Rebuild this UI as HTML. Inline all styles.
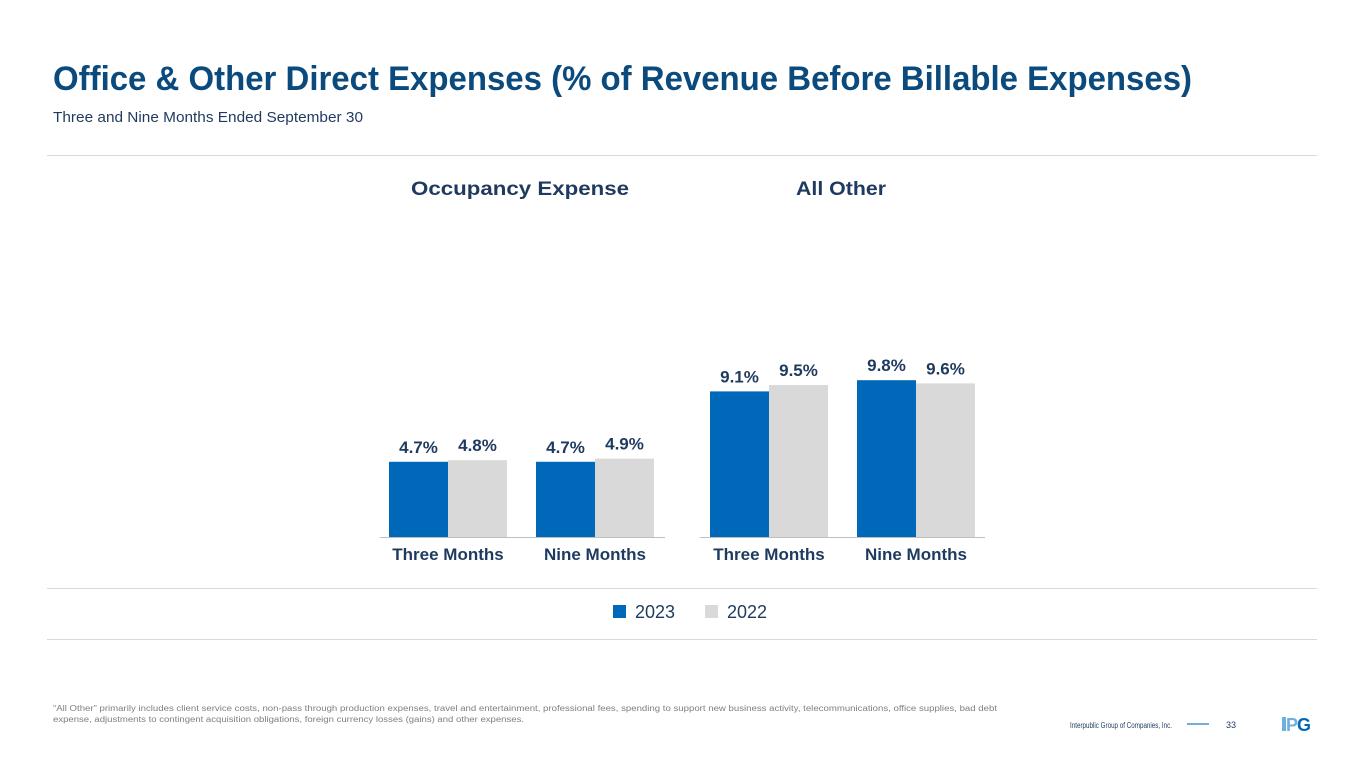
<!DOCTYPE html>
<html><head><meta charset="utf-8"><style>
body{margin:0;background:#fff;}
svg{display:block;font-family:"Liberation Sans",sans-serif;}
</style></head><body>
<svg width="1365" height="768" viewBox="0 0 1365 768">
<text x="53" y="90" font-size="34" font-weight="bold" fill="#0b4a7d" textLength="1139" lengthAdjust="spacingAndGlyphs">Office &amp; Other Direct Expenses (% of Revenue Before Billable Expenses)</text>
<text x="53" y="122" font-size="15" fill="#1f3a5f" textLength="310" lengthAdjust="spacingAndGlyphs">Three and Nine Months Ended September 30</text>
<line x1="47" y1="155.5" x2="1317" y2="155.5" stroke="#d9d9d9"/>
<line x1="47" y1="588.5" x2="1317" y2="588.5" stroke="#d9d9d9"/>
<line x1="47" y1="639.5" x2="1317" y2="639.5" stroke="#d9d9d9"/>
<text x="520" y="195" font-size="19" font-weight="bold" fill="#1f3a5f" text-anchor="middle" textLength="218" lengthAdjust="spacingAndGlyphs">Occupancy Expense</text>
<text x="841" y="195" font-size="19" font-weight="bold" fill="#1f3a5f" text-anchor="middle" textLength="90" lengthAdjust="spacingAndGlyphs">All Other</text>
<g id="bars"></g>
<rect x="613" y="605" width="13" height="13" fill="#0068b8"/>
<text x="635" y="618" font-size="18" fill="#1f3a5f">2023</text>
<rect x="705" y="605" width="13" height="13" fill="#d9d9d9"/>
<text x="727" y="618" font-size="18" fill="#1f3a5f">2022</text>
<text x="53" y="711" font-size="8" fill="#7f7f7f" textLength="944" lengthAdjust="spacingAndGlyphs">“All Other” primarily includes client service costs, non-pass through production expenses, travel and entertainment, professional fees, spending to support new business activity, telecommunications, office supplies, bad debt</text>
<text x="53" y="722" font-size="8" fill="#7f7f7f" textLength="471" lengthAdjust="spacingAndGlyphs">expense, adjustments to contingent acquisition obligations, foreign currency losses (gains) and other expenses.</text>
<text x="1172" y="728" font-size="8" fill="#1f3a5f" text-anchor="end" textLength="102" lengthAdjust="spacingAndGlyphs">Interpublic Group of Companies, Inc.</text>
<line x1="1187" y1="724" x2="1209" y2="724" stroke="#4a90c8" stroke-width="1.5"/>
<text x="1226" y="728" font-size="9" fill="#1f3a5f">33</text>
<g>
<rect x="1282" y="717" width="4" height="14" fill="#6db0e0"/>
<text x="1286" y="731" font-size="18" font-weight="bold" fill="#6db0e0">P</text>
<text x="1297" y="731" font-size="18" font-weight="bold" fill="#0068b8">G</text>
</g>
</svg>
<script>
const categories=["Three Months","Nine Months","Three Months","Nine Months"];
const values2023=[4.7,4.7,9.1,9.8];
const values2022=[4.8,4.9,9.5,9.6];
const labels2023=["4.7%","4.7%","9.1%","9.8%"];
const labels2022=["4.8%","4.9%","9.5%","9.6%"];
const NS="http://www.w3.org/2000/svg";
const g=document.getElementById('bars');
const baseY=537, pxPer=16;
const groupX=[389,536,710,857], bw=59;
function yScale(v){return baseY-v*pxPer;}
function mk(tag,attrs){const e=document.createElementNS(NS,tag);for(const k in attrs)e.setAttribute(k,attrs[k]);g.appendChild(e);return e;}
[[380,665],[700,985]].forEach(function(a,i){
  const l=mk('line',{x1:a[0],x2:a[1],y1:baseY+0.5,y2:baseY+0.5,stroke:'#bfbfbf'});
  
  
});
categories.forEach(function(c,i){
  const x=groupX[i];
  const b1=mk('rect',{x:x,y:yScale(values2023[i]),width:bw,height:values2023[i]*pxPer,fill:'#0068b8'});
  
  
  const b2=mk('rect',{x:x+bw,y:yScale(values2022[i]),width:bw,height:values2022[i]*pxPer,fill:'#d9d9d9'});
  
  
  const t1=mk('text',{x:x+bw/2,y:yScale(values2023[i])-9,'font-size':17,'font-weight':'bold',fill:'#1f3a5f','text-anchor':'middle'});
  t1.textContent=labels2023[i];
  
  
  const t2=mk('text',{x:x+bw*1.5,y:yScale(values2022[i])-9,'font-size':17,'font-weight':'bold',fill:'#1f3a5f','text-anchor':'middle'});
  t2.textContent=labels2022[i];
  
  
  const ct=mk('text',{x:x+bw,y:560,'font-size':17,'font-weight':'bold',fill:'#1f3a5f','text-anchor':'middle'});
  ct.textContent=c;
  
  
});
</script>
</body></html>
